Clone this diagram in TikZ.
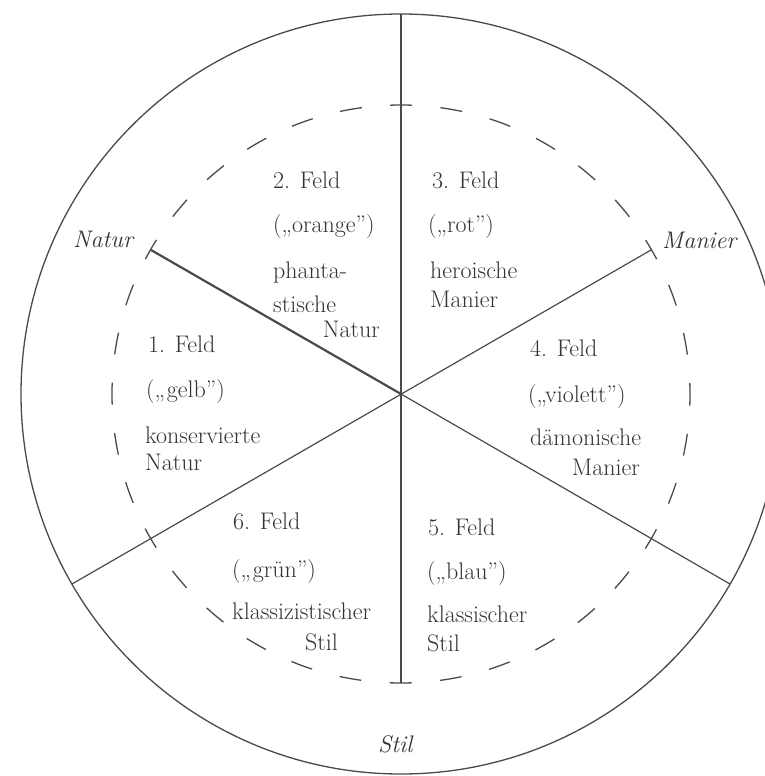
\documentclass[tikz,border=0pt]{standalone}
\usepackage{fontspec}
\usepackage{xcolor}
\definecolor{Ink}{HTML}{333333}
\definecolor{Rule}{HTML}{4A4A4A}

\tikzset{
  feld/.style={anchor=base west, inner sep=0pt, text=Ink, font=\fontsize{24}{28}\selectfont},
  feldr/.style={feld, anchor=base east},
  pol/.style={feld, font=\fontsize{24}{28}\selectfont\itshape},
  achse/.style={draw=Rule, line width=1.2pt},
}

\begin{document}
\begin{tikzpicture}[x=1pt, y=-1pt]

  % Rahmen
  \useasboundingbox (0,0) rectangle (764,776);
  \fill[white] (0,0) rectangle (764,776);

  % Kreise
  \coordinate (M) at (401,394);
  \draw[Rule, line width=1.3pt] (M) circle[radius=380pt];
  \draw[Rule, line width=1.3pt, dash pattern=on 22pt off 28.43pt, dash phase=11pt] (M) circle[radius=289pt];

  % Endpunkte der Achsen
  \coordinate (oben) at (401,14);
  \coordinate (unten) at (401,683);
  \coordinate (natur) at (151,250);
  \coordinate (manier) at (651,250);
  \coordinate (linksunten) at (72,584);
  \coordinate (rechtsunten) at (730,584);

  % Achsen
  \draw[achse] (oben) -- (unten);
  \draw[achse, line width=2.2pt] (natur) -- (M);
  \draw[achse] (M) -- (rechtsunten);
  \draw[achse] (manier) -- (linksunten);

  % Pole
  \node[pol] (lnatur) at (73,247) {Natur};
  \node[pol] (lmanier) at (662,248) {Manier};
  \node[pol] (lstil) at (378,752) {Stil};

  % 1. Feld
  \node[feld] (f1a) at (148,352) {1. Feld};
  \node[feld] (f1b) at (146,397) {(„gelb”)};
  \node[feld] (f1c) at (145,443) {konservierte};
  \node[feld] (f1d) at (145,470) {Natur};

  % 2. Feld
  \node[feld] (f2a) at (273,188) {2. Feld};
  \node[feld] (f2b) at (273,232) {(„orange”)};
  \node[feld] (f2c) at (273,278) {phanta-};
  \node[feld] (f2d) at (273,312) {stische};
  \node[feldr] (f2e) at (380,337) {Natur};

  % 3. Feld
  \node[feld] (f3a) at (432,188) {3. Feld};
  \node[feld] (f3b) at (428,232) {(„rot”)};
  \node[feld] (f3c) at (430,278) {heroische};
  \node[feld] (f3d) at (430,307) {Manier};

  % 4. Feld
  \node[feld] (f4a) at (530,356) {4. Feld};
  \node[feld] (f4b) at (528,402) {(„violett”)};
  \node[feld] (f4c) at (530,445) {dämonische};
  \node[feldr] (f4d) at (640,475) {Manier};

  % 5. Feld
  \node[feld] (f5a) at (428,535) {5. Feld};
  \node[feld] (f5b) at (427,579) {(„blau”)};
  \node[feld] (f5c) at (427,622) {klassischer};
  \node[feld] (f5d) at (427,651) {Stil};

  % 6. Feld
  \node[feld] (f6a) at (233,529) {6. Feld};
  \node[feld] (f6b) at (232,577) {(„grün”)};
  \node[feld] (f6c) at (232,619) {klassizistischer};
  \node[feld] (f6d) at (305,650) {Stil};

\end{tikzpicture}
\end{document}
